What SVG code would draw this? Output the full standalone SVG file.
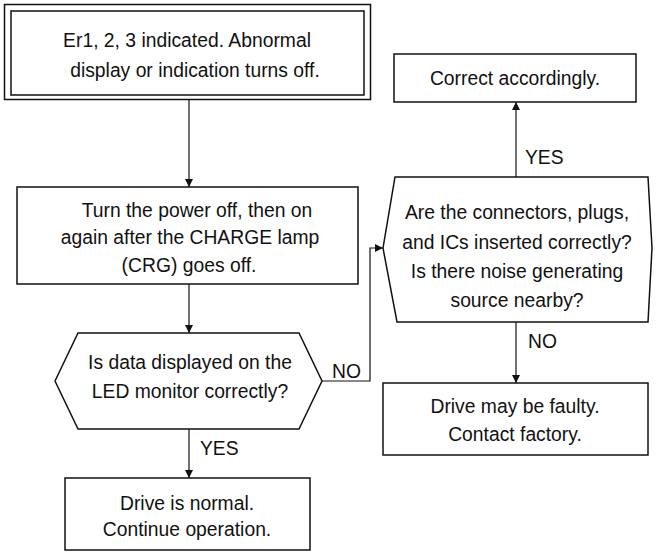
<svg xmlns="http://www.w3.org/2000/svg" width="657" height="552" viewBox="0 0 657 552">
<style>
.box{fill:#fff;stroke:#111;stroke-width:1.5}
.ln{fill:none;stroke:#111;stroke-width:1.2}
text{font-family:"Liberation Sans",Arial,sans-serif;font-size:21px;fill:#111;text-anchor:middle}
.lbl{text-anchor:start}
</style>
<defs>
<marker id="ah" viewBox="0 0 10 10" refX="10" refY="5" markerWidth="8" markerHeight="8" markerUnits="userSpaceOnUse" orient="auto">
<path d="M0,0 L10,5 L0,10 z" fill="#111"/>
</marker>
</defs>
<rect width="657" height="552" fill="#fff"/>
<g id="connectors">
<line class="ln" x1="189" y1="100" x2="189" y2="187" marker-end="url(#ah)"/>
<line class="ln" x1="189" y1="284" x2="189" y2="333" marker-end="url(#ah)"/>
<line class="ln" x1="189" y1="429" x2="189" y2="478" marker-end="url(#ah)"/>
<polyline class="ln" points="322,381 370,381 370,248 383,248" marker-end="url(#ah)"/>
<line class="ln" x1="516" y1="177" x2="516" y2="102" marker-end="url(#ah)"/>
<line class="ln" x1="516" y1="322" x2="516" y2="383" marker-end="url(#ah)"/>
<text class="lbl" transform="translate(332,378) scale(0.92,1)">NO</text>
<text class="lbl" transform="translate(200,455) scale(0.92,1)">YES</text>
<text class="lbl" transform="translate(525,164) scale(0.92,1)">YES</text>
<text class="lbl" transform="translate(528,348) scale(0.92,1)">NO</text>
</g>
<g id="start">
<rect class="box" x="4.5" y="4.5" width="366" height="95"/>
<rect class="box" x="11" y="11" width="353" height="84"/>
<text transform="translate(187,47) scale(0.92,1)">Er1, 2, 3 indicated. Abnormal</text>
<text transform="translate(195,77) scale(0.92,1)">display or indication turns off.</text>
</g>
<g id="power">
<rect class="box" x="17" y="187" width="341" height="97"/>
<text transform="translate(197,217) scale(0.92,1)">Turn the power off, then on</text>
<text transform="translate(190,244) scale(0.92,1)">again after the CHARGE lamp</text>
<text transform="translate(189,272) scale(0.92,1)">(CRG) goes off.</text>
</g>
<g id="check">
<polygon class="box" points="55,381 78,333 299,333 322,381 299,429 78,429"/>
<text transform="translate(190,369) scale(0.92,1)">Is data displayed on the</text>
<text transform="translate(190,398) scale(0.92,1)">LED monitor correctly?</text>
</g>
<g id="normal">
<rect class="box" x="65" y="478" width="245" height="72"/>
<text transform="translate(187,510) scale(0.92,1)">Drive is normal.</text>
<text transform="translate(187,536) scale(0.92,1)">Continue operation.</text>
</g>
<g id="connectors-check">
<polygon class="box" points="383,248 395,177 648,177 652,248 648,322 397,322"/>
<text transform="translate(517,219) scale(0.92,1)">Are the connectors, plugs,</text>
<text transform="translate(517,249) scale(0.92,1)">and ICs inserted correctly?</text>
<text transform="translate(517,278) scale(0.92,1)">Is there noise generating</text>
<text transform="translate(517,307) scale(0.92,1)">source nearby?</text>
</g>
<g id="correct">
<rect class="box" x="394" y="54" width="242" height="48"/>
<text transform="translate(515,85) scale(0.92,1)">Correct accordingly.</text>
</g>
<g id="faulty">
<rect class="box" x="383" y="383" width="265" height="72"/>
<text transform="translate(515,413) scale(0.92,1)">Drive may be faulty.</text>
<text transform="translate(515,441) scale(0.92,1)">Contact factory.</text>
</g>
</svg>
